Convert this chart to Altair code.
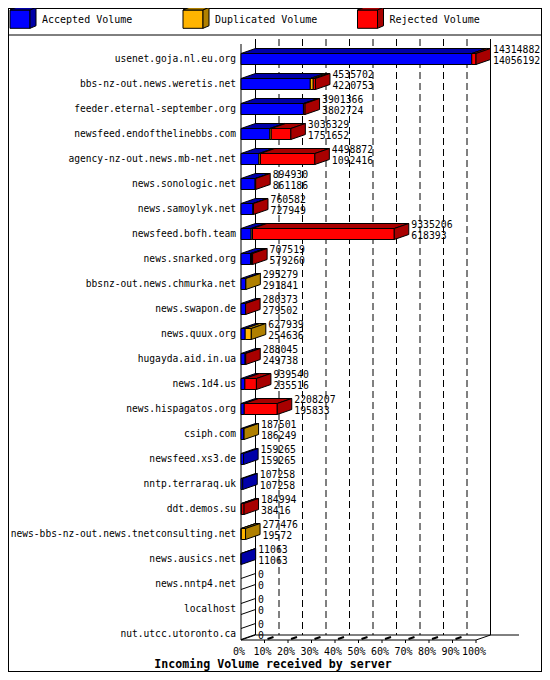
import altair as alt
import pandas as pd

# ---------------- data ----------------
hosts = [
    "usenet.goja.nl.eu.org", "bbs-nz-out.news.weretis.net", "feeder.eternal-september.org",
    "newsfeed.endofthelinebbs.com", "agency-nz-out.news.mb-net.net", "news.sonologic.net",
    "news.samoylyk.net", "newsfeed.bofh.team", "news.snarked.org", "bbsnz-out.news.chmurka.net",
    "news.swapon.de", "news.quux.org", "hugayda.aid.in.ua", "news.1d4.us", "news.hispagatos.org",
    "csiph.com", "newsfeed.xs3.de", "nntp.terraraq.uk", "ddt.demos.su",
    "news-bbs-nz-out.news.tnetconsulting.net", "news.ausics.net", "news.nntp4.net",
    "localhost", "nut.utcc.utoronto.ca",
]
total = [14314882, 4535702, 3901366, 3036329, 4498872, 894930, 760582, 9335206, 707519,
         295279, 280373, 627939, 288045, 939540, 2208207, 187501, 159265, 107258, 184994,
         277476, 11063, 0, 0, 0]
accepted = [14056192, 4220753, 3802724, 1751652, 1092416, 861186, 727949, 618393, 579260,
            291841, 279502, 254636, 249738, 235516, 195833, 186249, 159265, 107258, 38416,
            19572, 11063, 0, 0, 0]
duplicated = [0, 180000, 0, 90000, 90000, 0, 0, 80000, 60000,
              3438, 0, 373303, 0, 0, 0, 1252, 0, 0, 0,
              257904, 0, 0, 0, 0]
rejected = [258690, 134949, 98642, 1194677, 3316456, 33744, 32633, 8636813, 68259,
            0, 871, 0, 38307, 704024, 2012374, 0, 0, 0, 146578,
            0, 0, 0, 0, 0]

series_names = ["Accepted Volume", "Duplicated Volume", "Rejected Volume"]
front_colors = ["#0000FF", "#FFB400", "#FF0000"]
side_colors = ["#0000A8", "#B08000", "#A80000"]
pct_ticks = [0, 10, 20, 30, 40, 50, 60, 70, 80, 90, 100]
pct_labels = ["0%", "10%", "20%", "30%", "40%", "50%", "60%", "70%", "80%", "90%", "100%"]
x_title = "Incoming Volume received by server"

# ---------------- layout (pixels) ----------------
W, H = 534, 664
OFF = 8
X0 = 241 - OFF      # chart px of 0 %
KX = 2.35           # px per percent
Y0 = 59 - OFF       # chart px of first row centre
KY = 25.0           # px per row
DEPTH_X = 14.5
DEPTH_Y = 5.0
HALF_BAR = 5.5
FONT = "DejaVu Sans Mono"


def dx(px):
    return px / KX


def dy(px):
    return px / KY


def xp(page_x):
    return (page_x - OFF - X0) / KX


def yr(page_y):
    return (page_y - OFF - Y0) / KY


XS = alt.Scale(domain=[xp(OFF), xp(OFF + W)], nice=False, zero=False)
YS = alt.Scale(domain=[yr(OFF), yr(OFF + H)], nice=False, zero=False, reverse=True)
DX, DY, HB = dx(DEPTH_X), dy(DEPTH_Y), dy(HALF_BAR)

# ---------------- build faces ----------------
vmax = max(total)
fronts, tops, sides, solid, texts = [], [], [], [], []
for i, h in enumerate(hosts):
    vals = [accepted[i], duplicated[i], rejected[i]]
    start = 0.0
    last = None
    for k, v in enumerate(vals):
        if v <= 0:
            continue
        p0 = start / vmax * 100
        p1 = (start + v) / vmax * 100
        fronts.append(dict(x=p0, x2=p1, y=i - HB, y2=i + HB, fill=front_colors[k]))
        fid = f"t{i}_{k}"
        tops.append(dict(id=fid, y=i - HB, x=p0, x2=p1, fill=side_colors[k]))
        tops.append(dict(id=fid, y=i - HB - DY, x=p0 + DX, x2=p1 + DX, fill=side_colors[k]))
        start += v
        last = (k, p1)
    if last is not None:
        k, p1 = last
        sid = f"s{i}"
        sides.append(dict(id=sid, x=p1, y=i + HB, y2=i - HB, fill=side_colors[k]))
        sides.append(dict(id=sid, x=p1 + DX, y=i + HB - DY, y2=i - HB - DY, fill=side_colors[k]))
    else:
        solid.append(dict(x=0, y=i - HB, x2=DX, y2=i - HB - DY, w=1))
        solid.append(dict(x=0, y=i + HB, x2=DX, y2=i + HB - DY, w=1))
    pt = total[i] / vmax * 100
    texts.append(dict(x=pt + dx(17), y=i - dy(9.5), t=str(total[i])))
    texts.append(dict(x=pt + dx(17), y=i + dy(1.5), t=str(accepted[i])))

# walls, floor, separator
solid += [
    dict(x=DX, y=yr(39), x2=DX, y2=yr(635), w=1),
    dict(x=100 + DX, y=yr(39), x2=100 + DX, y2=yr(635), w=1),
    dict(x=0, y=yr(44), x2=0, y2=yr(640), w=1),
    dict(x=0, y=yr(640), x2=100, y2=yr(640), w=1),
    dict(x=100, y=yr(640), x2=100 + DX, y2=yr(635), w=1),
    dict(x=0, y=yr(640), x2=DX, y2=yr(635), w=1),
    dict(x=DX, y=yr(635), x2=xp(519), y2=yr(635), w=1),
    dict(x=xp(OFF), y=yr(35), x2=xp(OFF + W), y2=yr(35), w=1),
]
dashed = []
for p in pct_ticks:
    if p not in (0, 100):
        dashed.append(dict(x=p + DX, y=yr(39), x2=p + DX, y2=yr(635)))
        solid.append(dict(x=p + dx(3), y=yr(639), x2=p + dx(9), y2=yr(637), w=2))
    if p != 0:
        solid.append(dict(x=p, y=yr(640), x2=p, y2=yr(643), w=1))

# legend
leg_x = [10, 183, 357.5]
leg_front, leg_top, leg_side, leg_text = [], [], [], []
for k, name in enumerate(series_names):
    lx = leg_x[k]
    leg_front.append(dict(x=xp(lx), x2=xp(lx + 20), y=yr(10), y2=yr(28.3), fill=front_colors[k]))
    leg_top.append(dict(id=f"lt{k}", y=yr(10), x=xp(lx), x2=xp(lx + 20), fill=side_colors[k]))
    leg_top.append(dict(id=f"lt{k}", y=yr(7.5), x=xp(lx + 6), x2=xp(lx + 26), fill=side_colors[k]))
    leg_side.append(dict(id=f"ls{k}", x=xp(lx + 20), y=yr(28.3), y2=yr(10), fill=side_colors[k]))
    leg_side.append(dict(id=f"ls{k}", x=xp(lx + 26), y=yr(25.8), y2=yr(7.5), fill=side_colors[k]))
    leg_text.append(dict(x=xp(lx + 32), y=yr(20), t=name))

fronts += leg_front
tops += leg_top
sides += leg_side

cat_df = pd.DataFrame(dict(x=[xp(236)] * len(hosts), y=list(range(len(hosts))), t=hosts))
axis_df = pd.DataFrame(dict(x=[p - dx(2) for p in pct_ticks], y=[yr(652)] * len(pct_ticks), t=pct_labels))
title_df = pd.DataFrame(dict(x=[xp(273)], y=[yr(665)], t=[x_title]))


def X(f="x"):
    return alt.X(f"{f}:Q", scale=XS, axis=None)


def Y(f="y"):
    return alt.Y(f"{f}:Q", scale=YS, axis=None)


dash_layer = alt.Chart(pd.DataFrame(dashed)).mark_rule(
    color="black", strokeWidth=1, strokeDash=[7, 4]
).encode(x=X(), y=Y(), x2=alt.X2("x2"), y2=alt.Y2("y2"))

solid_df = pd.DataFrame(solid)
solid1 = alt.Chart(solid_df[solid_df.w == 1]).mark_rule(color="black", strokeWidth=1).encode(
    x=X(), y=Y(), x2=alt.X2("x2"), y2=alt.Y2("y2"))
solid2 = alt.Chart(solid_df[solid_df.w == 2]).mark_rule(color="black", strokeWidth=2).encode(
    x=X(), y=Y(), x2=alt.X2("x2"), y2=alt.Y2("y2"))

front_layer = alt.Chart(pd.DataFrame(fronts)).mark_rect(stroke="black", strokeWidth=1).encode(
    x=X(), x2=alt.X2("x2"), y=Y(), y2=alt.Y2("y2"), fill=alt.Fill("fill:N", scale=None))

top_layer = alt.Chart(pd.DataFrame(tops)).mark_area(
    orient="horizontal", stroke="black", strokeWidth=1, opacity=1
).encode(y=Y(), x=X(), x2=alt.X2("x2"), detail="id:N", fill=alt.Fill("fill:N", scale=None))

side_layer = alt.Chart(pd.DataFrame(sides)).mark_area(
    orient="vertical", stroke="black", strokeWidth=1, opacity=1
).encode(x=X(), y=Y(), y2=alt.Y2("y2"), detail="id:N", fill=alt.Fill("fill:N", scale=None))

value_text = alt.Chart(pd.DataFrame(texts)).mark_text(
    align="left", baseline="middle", font=FONT, fontSize=9.8, color="black"
).encode(x=X(), y=Y(), text="t:N")

legend_text = alt.Chart(pd.DataFrame(leg_text)).mark_text(
    align="left", baseline="middle", font=FONT, fontSize=10, color="black"
).encode(x=X(), y=Y(), text="t:N")

cat_text = alt.Chart(cat_df).mark_text(
    align="right", baseline="middle", font=FONT, fontSize=9.6, color="black"
).encode(x=X(), y=Y(), text="t:N")

axis_text = alt.Chart(axis_df).mark_text(
    align="center", baseline="middle", font=FONT, fontSize=10, color="black"
).encode(x=X(), y=Y(), text="t:N")

title_text = alt.Chart(title_df).mark_text(
    align="center", baseline="middle", font=FONT, fontSize=11.6, fontWeight="bold", color="black"
).encode(x=X(), y=Y(), text="t:N")

chart = alt.layer(
    dash_layer, solid1, solid2, front_layer, top_layer, side_layer,
    value_text, legend_text, cat_text, axis_text, title_text,
).properties(
    width=W, height=H, padding=0, autosize=alt.AutoSizeParams(type="none"),
    background="white",
).configure_view(stroke="black", strokeWidth=2)

chart.save("out.html", embed_options={"renderer": "svg", "actions": False})
